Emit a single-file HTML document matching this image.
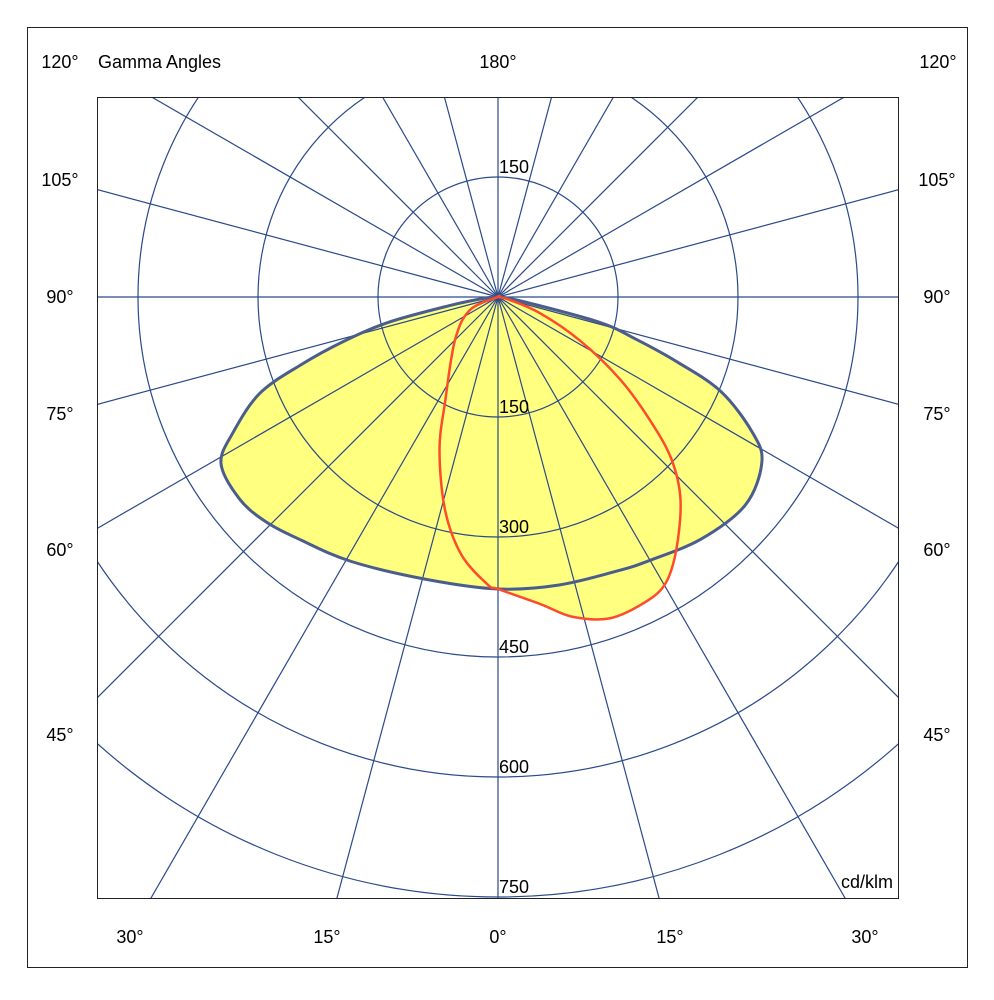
<!DOCTYPE html>
<html><head><meta charset="utf-8"><style>
html,body{margin:0;padding:0;background:#fff;width:994px;height:1000px;overflow:hidden;}
svg{display:block;font-family:"Liberation Sans",sans-serif;}
text{font-size:18px;fill:#000;}
</style></head><body>
<svg id="chart" width="994" height="1000" viewBox="0 0 994 1000">
<rect x="27.5" y="27.5" width="940" height="940" fill="#fff" stroke="#222" stroke-width="1"/>
<defs><clipPath id="plotclip"><rect x="97" y="97" width="802" height="802"/></clipPath></defs>
<g id="plot" clip-path="url(#plotclip)">
<g id="curves"></g>
<g id="grid"></g>
<g id="curves-top"></g>
</g>
<rect x="97.5" y="97.5" width="801" height="801" fill="none" stroke="#222" stroke-width="1"/>
<g id="labels"></g>
</svg>
<script>
// ---- data ----
const ringValues = [150, 300, 450, 600, 750];
const ringLabels = ["150", "300", "450", "600", "750"];
const angleStep = 15;
const gammaC0 = [0, 12, 24, 30, 40, 50, 58, 62, 67, 70, 73, 76, 79, 84, 90];
const valuesC0 = [365, 368, 374, 380, 395, 404, 389, 360, 303, 240, 180, 131, 41, 10, 0];
const gammaC180 = [0, 14, 29, 39, 46, 52, 59, 63, 68, 71, 74, 77, 80, 85, 90];
const valuesC180 = [365, 364, 378, 391, 404, 410, 404, 371, 321, 261, 200, 140, 60, 15, 0];
const gammaC90 = [0, 8, 13, 19, 25, 30, 35, 42, 47, 51, 56, 62, 69, 76, 90];
const valuesC90 = [365, 388, 410, 425, 424, 416, 388, 341, 296, 244, 184, 116, 56, 15, 0];
const gammaC270 = [0, 2, 8, 14, 21, 27, 45, 65, 90];
const valuesC270 = [365, 360, 326, 274, 204, 145, 76, 39, 0];

// ---- axes ----
const cx = 498, cy = 297, scale = 0.8;
const NS = "http://www.w3.org/2000/svg";
function pt(gammaDeg, value, side) {
  const a = gammaDeg * Math.PI / 180;
  const r = value * scale;
  return [cx + side * r * Math.sin(a), cy + r * Math.cos(a)];
}
function mk(tag, attrs, parent) {
  const el = document.createElementNS(NS, tag);
  for (const k in attrs) el.setAttribute(k, attrs[k]);
  parent.appendChild(el);
  return el;
}
const grid = document.getElementById('grid');
const gridColor = "#2a4a8a";
ringValues.forEach((v, i) => {
  const c = mk('circle', {cx: cx, cy: cy, r: v * scale, fill: 'none', stroke: gridColor, 'stroke-width': 1.2}, grid);
  
  
});
for (let a = 0; a < 360; a += angleStep) {
  const t = a * Math.PI / 180;
  const l = mk('line', {x1: cx, y1: cy, x2: cx + 1200 * Math.sin(t), y2: cy + 1200 * Math.cos(t), stroke: gridColor, 'stroke-width': 1.2}, grid);
  
  
}
function curvePath(gR, vR, gL, vL) {
  const pts = [];
  for (let i = gR.length - 1; i >= 0; i--) pts.push(pt(gR[i], vR[i], 1));
  for (let i = 1; i < gL.length; i++) pts.push(pt(gL[i], vL[i], -1));
  let d = "M" + pts[0][0].toFixed(1) + "," + pts[0][1].toFixed(1);
  const n = pts.length;
  for (let i = 0; i < n; i++) {
    const p0 = pts[(i - 1 + n) % n], p1 = pts[i], p2 = pts[(i + 1) % n], p3 = pts[(i + 2) % n];
    const c1 = [p1[0] + (p2[0] - p0[0]) / 6, p1[1] + (p2[1] - p0[1]) / 6];
    const c2 = [p2[0] - (p3[0] - p1[0]) / 6, p2[1] - (p3[1] - p1[1]) / 6];
    d += " C" + c1[0].toFixed(1) + "," + c1[1].toFixed(1) + " " + c2[0].toFixed(1) + "," + c2[1].toFixed(1) + " " + p2[0].toFixed(1) + "," + p2[1].toFixed(1);
  }
  return d + "Z";
}
const curves = document.getElementById('curves');
const curvesTop = document.getElementById('curves-top');
const dY = curvePath(gammaC0, valuesC0, gammaC180, valuesC180);
const dR = curvePath(gammaC90, valuesC90, gammaC270, valuesC270);
const fillR = mk('path', {d: dR, fill: '#ffff80', stroke: 'none'}, curves);


const fillY = mk('path', {d: dY, fill: '#ffff80', stroke: 'none'}, curves);


const lineY = mk('path', {d: dY, fill: 'none', stroke: '#4a5d8c', 'stroke-width': 3, 'stroke-linejoin': 'round'}, curvesTop);


const lineR = mk('path', {d: dR, fill: 'none', stroke: '#ff4b2b', 'stroke-width': 2.5, 'stroke-linejoin': 'round'}, curvesTop);



// ---- labels ----
const labels = document.getElementById('labels');
function txt(x, y, s, name, anchor) {
  const t = mk('text', {x: x, y: y, 'text-anchor': anchor || 'middle'}, labels);
  t.textContent = s;
  
  
}
ringValues.forEach((v, i) => {
  txt(cx + 1, cy + v * scale - 4, ringLabels[i], 'ring-label-' + v, 'start');
});
txt(cx + 1, cy - 150 * scale - 4, "150", 'ring-label-top-150', 'start');
txt(60, 68, "120°", 'angle-label-top-left');
txt(98, 68, "Gamma Angles", 'gamma-angles-title', 'start');
txt(498, 68, "180°", 'angle-label-top-center');
txt(938, 68, "120°", 'angle-label-top-right');
const sideAngles = ["105°", "90°", "75°", "60°", "45°"];
const sideY = [186, 303, 420, 556, 741];
sideAngles.forEach((s, i) => {
  txt(60, sideY[i], s, 'angle-label-left-' + s.replace('°', ''));
  txt(937, sideY[i], s, 'angle-label-right-' + s.replace('°', ''));
});
const bottomAngles = ["30°", "15°", "0°", "15°", "30°"];
const bottomX = [130, 327, 498, 670, 865];
bottomAngles.forEach((s, i) => txt(bottomX[i], 943, s, 'angle-label-bottom-' + i));
txt(893, 888, "cd/klm", 'unit-label', 'end');
</script>
</body></html>
